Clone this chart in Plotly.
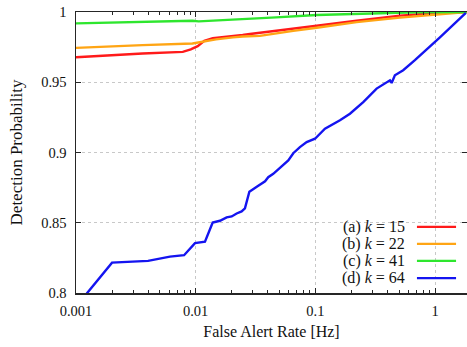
import math
import plotly.graph_objects as go

# ---- data ----
far_a = [0.001, 0.0019, 0.0036, 0.0078, 0.0091, 0.0104, 0.0118, 0.0139, 0.0206, 0.0247,
         0.0284, 0.0363, 0.0469, 0.0613, 0.1026, 0.2213, 0.509, 0.966, 1.84]
pd_a = [0.9678, 0.9693, 0.9705, 0.9716, 0.9734, 0.9757, 0.9795, 0.9814, 0.9827, 0.9836,
        0.9843, 0.9855, 0.9866, 0.9876, 0.9902, 0.9938, 0.9974, 0.9991, 1.0]

far_b = [0.001, 0.0019, 0.0036, 0.0094, 0.0122, 0.0148, 0.0205, 0.0247, 0.0344, 0.0469,
         0.0654, 0.1026, 0.2213, 0.509, 0.966, 1.84]
pd_b = [0.9745, 0.9757, 0.9764, 0.9776, 0.9795, 0.9805, 0.9819, 0.9826, 0.9830, 0.9850,
        0.9866, 0.9888, 0.9928, 0.9960, 0.9979, 1.0]

far_c = [0.001, 0.0036, 0.0079, 0.0094, 0.0106, 0.0206, 0.0469, 0.1026, 0.268, 0.70, 1.84]
pd_c = [0.9919, 0.9931, 0.9936, 0.9938, 0.9933, 0.9944, 0.9962, 0.9979, 0.9991, 0.9998, 1.0]

far_d = [0.001, 0.00124, 0.0020, 0.0040, 0.0061, 0.0080, 0.00987, 0.01196, 0.01387, 0.01596,
         0.01815, 0.0200, 0.0220, 0.0242, 0.0258, 0.0281, 0.0324, 0.0356, 0.0380, 0.0404,
         0.0445, 0.0506, 0.0594, 0.0654, 0.0743, 0.0846, 0.0993, 0.1203, 0.1606, 0.1946,
         0.2513, 0.325, 0.420, 0.434, 0.462, 0.542, 0.679, 1.099, 1.81]
pd_d = [0.789, 0.800, 0.8216, 0.8229, 0.8259, 0.8269, 0.8355, 0.8366, 0.8502, 0.8514,
        0.8538, 0.8545, 0.8566, 0.8581, 0.8602, 0.8721, 0.8757, 0.8776, 0.8795, 0.8824,
        0.8848, 0.8891, 0.8943, 0.8995, 0.9038, 0.9074, 0.9098, 0.9169, 0.9229, 0.9276,
        0.9359, 0.9455, 0.9514, 0.9495, 0.9550, 0.9586, 0.9657, 0.982, 0.9993]

labels = ["(a) <i>k</i> = 15", "(b) <i>k</i> = 22", "(c) <i>k</i> = 41", "(d) <i>k</i> = 64"]
colors = ["#ff1a1a", "#ffa514", "#2ee62e", "#1414f0"]

x_ticks = [0.001, 0.01, 0.1, 1]
x_ticktext = ["0.001", "0.01", "0.1", "1"]
y_ticks = [0.8, 0.85, 0.9, 0.95, 1.0]
y_ticktext = ["0.8", "0.85", "0.9", "0.95", "1"]

FONT = "Liberation Serif"

series = [(far_a, pd_a), (far_b, pd_b), (far_c, pd_c), (far_d, pd_d)]

fig = go.Figure()
for (xs, ys), lab, col in zip(series, labels, colors):
    fig.add_trace(go.Scatter(x=xs, y=ys, mode="lines", name=lab,
                             line=dict(color=col, width=2.4), showlegend=False,
                             hoverinfo="skip"))

# legend drawn as right-aligned text with line samples on the right
leg_y = [0.235, 0.175, 0.114, 0.053]
for lab, col, yy in zip(labels, colors, leg_y):
    fig.add_annotation(xref="paper", yref="paper", x=0.847, y=yy, text=lab,
                       showarrow=False, xanchor="right", yanchor="middle",
                       font=dict(family=FONT, size=16, color="#111"))
    fig.add_shape(type="line", xref="paper", yref="paper", x0=0.872, x1=0.972,
                  y0=yy, y1=yy, line=dict(color=col, width=2.2))

minor_x = [m * 10 ** e for e in range(-3, 1) for m in range(2, 10)]

axis_common = dict(showline=True, linecolor="#262626", linewidth=1.5, mirror="allticks",
                   ticks="inside", tickcolor="#262626", tickwidth=1,
                   showgrid=True, gridcolor="#c8c8c8", griddash="dot", gridwidth=1,
                   zeroline=False, automargin=False,
                   tickfont=dict(family=FONT, size=14.5, color="#111"))

fig.update_xaxes(type="log", range=[-3, math.log10(1.85)],
                 tickvals=x_ticks, ticktext=x_ticktext, ticklen=5,
                 minor=dict(tickvals=minor_x, ticks="inside", ticklen=3,
                            tickcolor="#262626", showgrid=False),
                 title=dict(text="False Alert Rate [Hz]",
                            font=dict(family=FONT, size=16, color="#111"), standoff=8),
                 ticklabelstandoff=4,
                 **axis_common)
fig.update_yaxes(range=[0.8, 1.0], tickvals=y_ticks, ticktext=y_ticktext, ticklen=5,
                 title=dict(text="Detection Probability",
                            font=dict(family=FONT, size=17, color="#111"), standoff=14),
                 ticklabelstandoff=5,
                 **axis_common)

fig.update_layout(width=467, height=347,
                  margin=dict(l=76, r=0, t=12, b=54),
                  paper_bgcolor="white", plot_bgcolor="white",
                  font=dict(family=FONT))

fig.write_html("out.html", config={"displayModeBar": False, "staticPlot": True},
               post_script="document.body.style.margin='0';document.body.style.overflow='hidden';")
